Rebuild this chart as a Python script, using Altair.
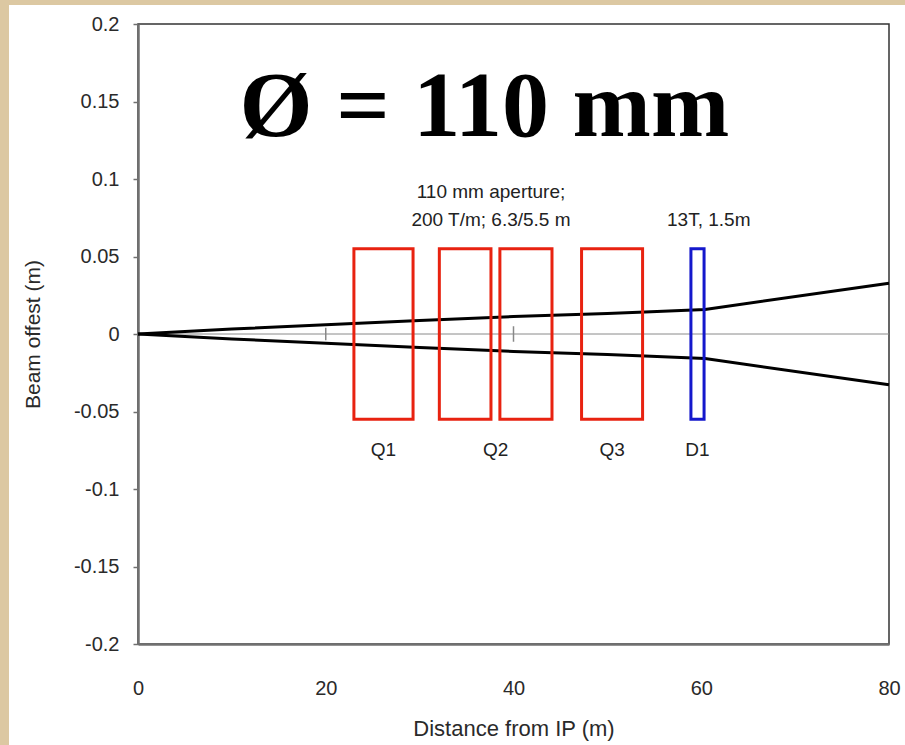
import altair as alt
import pandas as pd

# ---- data ----
beam_x = [0, 10, 20, 30, 40, 50, 54, 60.4, 80]
beam_y = [0, 0.0032, 0.006, 0.0087, 0.0113, 0.0133, 0.0142, 0.0158, 0.0328]

magnet_names = ["Q1", "Q2a", "Q2b", "Q3", "D1"]
magnet_start = [23.0, 32.1, 38.55, 47.25, 58.9]
magnet_end = [29.3, 37.6, 44.1, 53.75, 60.3]
magnet_half = [0.055, 0.055, 0.055, 0.055, 0.055]
magnet_kind = ["quad", "quad", "quad", "quad", "dipole"]

label_text = ["Q1", "Q2", "Q3", "D1"]
label_x = [26.15, 38.1, 50.5, 59.6]
label_y = [-0.079, -0.079, -0.079, -0.079]

note_text = ["110 mm aperture;", "200 T/m; 6.3/5.5 m", "13T, 1.5m"]
note_x = [37.6, 37.6, 60.8]
note_y = [0.0875, 0.07, 0.07]

marker_x = [20, 40]
marker_half = [0.004, 0.005]

title_text = "Ø = 110 mm"
title_x = 36.9
title_y = 0.128

x_ticks = [0, 20, 40, 60, 80]
y_ticks = [-0.2, -0.15, -0.1, -0.05, 0, 0.05, 0.1, 0.15, 0.2]

# ---- tables ----
rows = []
for s, (xs_, ys_) in enumerate([(beam_x, beam_y), (beam_x, [-v for v in beam_y])]):
    for i, (a, b) in enumerate(zip(xs_, ys_)):
        rows.append({"side": "up" if s == 0 else "down", "x": a, "y": b, "o": i})
beam = pd.DataFrame(rows)

magnets = pd.DataFrame({
    "name": magnet_names, "x": magnet_start, "x2": magnet_end,
    "y": magnet_half, "y2": [-h for h in magnet_half], "kind": magnet_kind,
})
labels = pd.DataFrame({"t": label_text, "x": label_x, "y": label_y})
notes = pd.DataFrame({"t": note_text, "x": note_x, "y": note_y})
markers = pd.DataFrame({"x": marker_x, "y": marker_half, "y2": [-h for h in marker_half]})
big = pd.DataFrame({"t": [title_text], "x": [title_x], "y": [title_y]})
zero = pd.DataFrame({"x": [0], "x2": [80], "y": [0]})

FONT = "Liberation Sans"
xs = alt.Scale(domain=[0, 80], nice=False)
ys = alt.Scale(domain=[-0.2, 0.2], nice=False)

x_axis = alt.Axis(values=x_ticks, ticks=False, labelPadding=34, labelFontSize=20,
                  labelFont=FONT, labelColor="#2a2a2a", title="Distance from IP (m)",
                  titleFont=FONT, titleFontSize=22, titleFontWeight="normal",
                  titleColor="#2a2a2a", titleY=84, titleBaseline="middle",
                  grid=False, domainColor="#707070", domainWidth=2.5,
                  labelFlush=False)
y_axis = alt.Axis(values=y_ticks, tickSize=5, tickColor="#707070", tickWidth=1.5,
                  labelPadding=14, labelFontSize=20, labelFont=FONT,
                  labelColor="#2a2a2a", labelExpr="'' + datum.value",
                  title="Beam offest (m)", titleFont=FONT, titleFontSize=21,
                  titleFontWeight="normal", titleColor="#2a2a2a", titleAngle=-90,
                  titleX=-105, titleY=310, titleBaseline="middle", titleAlign="center",
                  grid=False, domainColor="#707070", domainWidth=2.5, labelFlush=False)

PARCH = "#dcc8a2"
# decorative parchment edges (top and left strips of the page)
edge_top = alt.Chart(pd.DataFrame({"a": [0]})).mark_rect(color=PARCH).encode(
    x=alt.value(-138), x2=alt.value(767), y=alt.value(-24), y2=alt.value(-19)
)
edge_left = alt.Chart(pd.DataFrame({"a": [0]})).mark_rect(color=PARCH).encode(
    x=alt.value(-138), x2=alt.value(-129), y=alt.value(-24), y2=alt.value(721)
)

zero_line = alt.Chart(zero).mark_rule(color="#8a8a8a", strokeWidth=1).encode(
    x=alt.X("x:Q", scale=xs, axis=x_axis), x2="x2:Q",
    y=alt.Y("y:Q", scale=ys, axis=y_axis),
)

mark_ticks = alt.Chart(markers).mark_rule(color="#888888", strokeWidth=1.5).encode(
    x=alt.X("x:Q", scale=xs), y=alt.Y("y:Q", scale=ys), y2="y2:Q"
)

beam_lines = alt.Chart(beam).mark_line(color="black", strokeWidth=3).encode(
    x=alt.X("x:Q", scale=xs), y=alt.Y("y:Q", scale=ys), detail="side:N", order="o:Q"
)

boxes = alt.Chart(magnets).mark_rect(fillOpacity=0, strokeWidth=3).encode(
    x=alt.X("x:Q", scale=xs), x2="x2:Q",
    y=alt.Y("y:Q", scale=ys), y2="y2:Q",
    stroke=alt.Stroke("kind:N", scale=alt.Scale(domain=["quad", "dipole"],
                                                range=["#e82210", "#1418cc"]), legend=None),
)

label_marks = alt.Chart(labels).mark_text(font=FONT, fontSize=19, color="#222222",
                                          baseline="alphabetic", align="center").encode(
    x=alt.X("x:Q", scale=xs), y=alt.Y("y:Q", scale=ys), text="t:N"
)

note_marks = alt.Chart(notes).mark_text(font=FONT, fontSize=19, color="#222222",
                                        baseline="alphabetic", align="center").encode(
    x=alt.X("x:Q", scale=xs), y=alt.Y("y:Q", scale=ys), text="t:N"
)

big_title = alt.Chart(big).mark_text(font="Liberation Serif", fontSize=94, fontWeight="bold",
                                     color="black", baseline="alphabetic",
                                     align="center").encode(
    x=alt.X("x:Q", scale=xs), y=alt.Y("y:Q", scale=ys), text="t:N"
)

chart = alt.layer(
    edge_top, edge_left, zero_line, mark_ticks, beam_lines, boxes,
    label_marks, note_marks, big_title
).properties(
    width=751, height=620,
    autosize=alt.AutoSizeParams(type="none"),
    padding={"left": 138, "top": 24, "right": 16, "bottom": 101},
    background="white",
).configure_view(stroke="#333333", strokeWidth=1.5, fill=None)

chart.save("out.html", embed_options={"renderer": "svg", "actions": False})
